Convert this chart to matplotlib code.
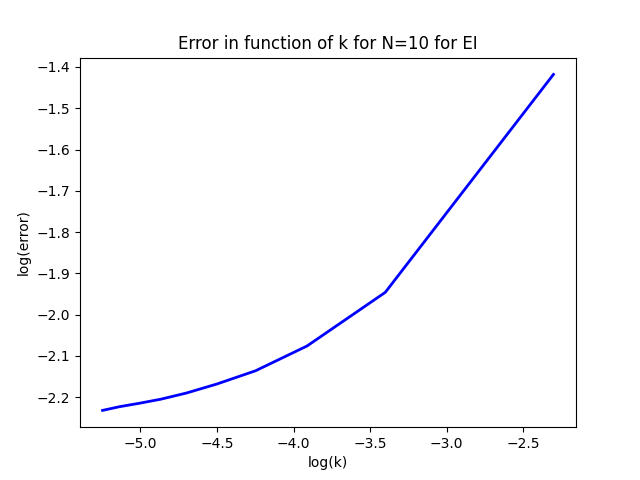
import matplotlib
matplotlib.use("Agg")
import matplotlib.pyplot as plt

log_k = [-2.303, -3.401, -3.912, -4.248, -4.500, -4.700, -4.868, -5.011, -5.136, -5.247]
log_err = [-1.418, -1.946, -2.076, -2.136, -2.168, -2.190, -2.205, -2.215, -2.223, -2.232]

plt.figure(figsize=(6.4, 4.8), dpi=100)
plt.plot(log_k, log_err, color="blue", linewidth=2)
plt.title("Error in function of k for N=10 for EI")
plt.xlabel("log(k)")
plt.ylabel("log(error)")
plt.savefig("out.png")
